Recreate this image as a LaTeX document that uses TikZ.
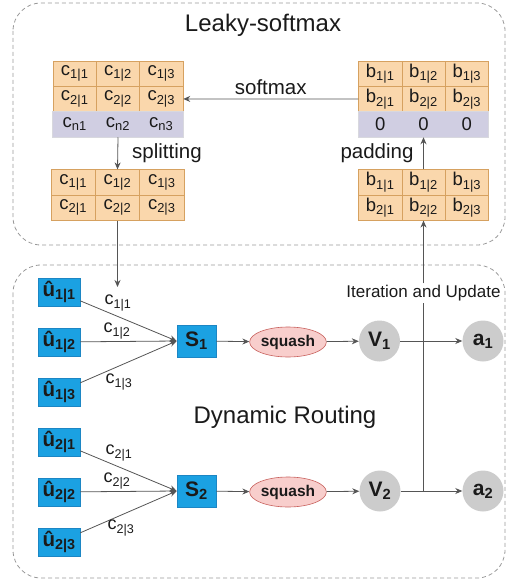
\documentclass[tikz,border=0pt]{standalone}
\usepackage{fontspec}
\setmainfont{Liberation Sans}
\usetikzlibrary{matrix,arrows.meta,shapes.geometric}
\definecolor{orangeFill}{HTML}{FAD7AC}
\definecolor{orangeLine}{HTML}{D6A160}
\definecolor{lavFill}{HTML}{D0CEE2}
\definecolor{lavLine}{HTML}{D8D8DE}
\definecolor{blueFill}{HTML}{1BA1E2}
\definecolor{blueLine}{HTML}{1C86C4}
\definecolor{pinkFill}{HTML}{F8CECC}
\definecolor{pinkLine}{HTML}{C8625E}
\definecolor{circFill}{HTML}{CCCCCC}
\definecolor{lineC}{HTML}{555555}
\definecolor{dashC}{HTML}{9A9A9A}
\definecolor{txt}{HTML}{1A1A1A}
\newcommand\idx[3]{#1\textsubscript{#2\textbar#3}}
\tikzset{
  cell/.style={draw=orangeLine, fill=orangeFill, line width=0.6pt,
    minimum width=43.3pt, minimum height=25.3pt, inner sep=0pt,
    text=txt, font=\fontsize{18.5}{21}\selectfont},
  padcell/.style={draw=lavFill, fill=lavFill},
  cmat/.style={matrix of nodes, nodes={cell}, column sep=-0.6pt,
    row sep=-0.6pt, inner sep=0pt},
  groupbox/.style={draw=dashC, line width=0.8pt, dash pattern=on 4pt off 3pt,
    rounded corners=28pt},
  title/.style={text=txt, font=\fontsize{24}{28}\selectfont},
  oplabel/.style={text=txt, font=\fontsize{20.5}{24}\selectfont},
  elab/.style={text=txt, font=\fontsize{18}{21}\selectfont, inner sep=1pt},
  ubox/.style={draw=blueLine, fill=blueFill, line width=0.6pt,
    minimum width=42pt, minimum height=28pt, inner sep=0pt,
    text=txt, font=\fontsize{20.5}{23}\selectfont\bfseries},
  sbox/.style={draw=blueLine, fill=blueFill, line width=0.6pt,
    minimum width=39pt, minimum height=32pt, inner sep=0pt,
    text=txt, font=\fontsize{21}{24}\selectfont\bfseries},
  squashnode/.style={ellipse, draw=pinkLine, fill=pinkFill, line width=0.6pt,
    minimum width=66pt, minimum height=30pt, inner sep=0pt,
    text=txt, font=\fontsize{15.5}{18}\selectfont\bfseries},
  circnode/.style={circle, fill=circFill, minimum size=41pt, inner sep=0pt,
    text=txt, font=\fontsize{21}{24}\selectfont\bfseries},
  conn/.style={draw=lineC, line width=0.8pt, -{Stealth[length=7pt,width=6pt]}},
  plain/.style={draw=lineC, line width=0.8pt}
}
\begin{document}
\begin{tikzpicture}[x=1pt, y=-1pt]
\useasboundingbox (0,0) rectangle (507,580);

% group boxes
\draw[groupbox] (13,3) rectangle (505,245);
\draw[groupbox] (13,265) rectangle (505,578);
\node[title] (t1) at (263,25) {Leaky-softmax};
\node[title] (t2) at (285,417) {Dynamic Routing};

% matrices
\matrix (cA) [cmat, row 3/.style={nodes={padcell}}] at (118,99) {
  \idx c11 & \idx c12 & \idx c13 \\
  \idx c21 & \idx c22 & \idx c23 \\
  c\textsubscript{n1} & c\textsubscript{n2} & c\textsubscript{n3} \\
};
\draw[lavLine, line width=0.6pt] (cA-3-1.north west) rectangle (cA-3-3.south east);

\matrix (bA) [cmat, row 3/.style={nodes={padcell}}] at (423.5,99) {
  \idx b11 & \idx b12 & \idx b13 \\
  \idx b21 & \idx b22 & \idx b23 \\
  0 & 0 & 0 \\
};
\draw[lavLine, line width=0.6pt] (bA-3-1.north west) rectangle (bA-3-3.south east);

\matrix (cS) [cmat, nodes={minimum width=44.3pt}] at (117.5,195) {
  \idx c11 & \idx c12 & \idx c13 \\
  \idx c21 & \idx c22 & \idx c23 \\
};

\matrix (bS) [cmat] at (423.5,195) {
  \idx b11 & \idx b12 & \idx b13 \\
  \idx b21 & \idx b22 & \idx b23 \\
};

% top connectors
\draw[conn] (bA-2-1.west) -- (cA-2-3.east) node[oplabel, midway, above=1pt] (lsm) {softmax};
\draw[conn] (cA-3-2.south) -- (cS-1-2.north);
\node[oplabel] (lsp) at (167,153) {splitting};
\draw[conn] (bS-1-2.north) -- (bA-3-2.south);
\node[oplabel] (lpd) at (377,153) {padding};

% bottom nodes
\node[ubox] (u11) at (59,292) {û\textsubscript{1|1}};
\node[ubox] (u12) at (59,342) {û\textsubscript{1|2}};
\node[ubox] (u13) at (59,392) {û\textsubscript{1|3}};
\node[ubox] (u21) at (59,442) {û\textsubscript{2|1}};
\node[ubox] (u22) at (59,492) {û\textsubscript{2|2}};
\node[ubox] (u23) at (59,542) {û\textsubscript{2|3}};
\node[sbox] (S1) at (196.5,341) {S\textsubscript{1}};
\node[sbox] (S2) at (196.5,491) {S\textsubscript{2}};
\node[squashnode] (q1) at (288,342) {squash};
\node[squashnode] (q2) at (288,492) {squash};
\node[circnode] (V1) at (379.5,341) {V\textsubscript{1}};
\node[circnode] (V2) at (380,491) {V\textsubscript{2}};
\node[circnode] (a1) at (483,341) {a\textsubscript{1}};
\node[circnode] (a2) at (483,491) {a\textsubscript{2}};

% splitting to routing
\coordinate (cEnd) at (117.5,287);
\draw[conn] (cS-2-2.south) -- (cEnd);

% u -> S
\draw[conn] (u11) -- (S1.west);
\draw[conn] (u12) -- (S1.west);
\draw[conn] (u13) -- (S1.west);
\draw[conn] (u21) -- (S2.west);
\draw[conn] (u22) -- (S2.west);
\draw[conn] (u23) -- (S2.west);
\node[elab] (l11) at (118,303) {\idx c11};
\node[elab] (l12) at (117,331) {\idx c12};
\node[elab] (l13) at (119,382) {\idx c13};
\node[elab] (l21) at (119,453) {\idx c21};
\node[elab] (l22) at (117,481) {\idx c22};
\node[elab] (l23) at (121,528) {\idx c23};

\draw[conn] (S1) -- (q1);
\draw[conn] (S2) -- (q2);
\draw[conn] (q1) -- (V1);
\draw[conn] (q2) -- (V2);
\draw[conn] (V1) -- (a1);
\draw[conn] (V2) -- (a2);

% iteration feedback
\coordinate (J2) at (bS-2-2.south |- V2.center);
\node[text=txt, font=\fontsize{17}{20}\selectfont, inner sep=1.5pt] (iter) at (423.5,293) {Iteration and Update};
\draw[plain] (J2) -- (iter.south);
\draw[conn] (iter.north) -- (bS-2-2.south);
\end{tikzpicture}
\end{document}
